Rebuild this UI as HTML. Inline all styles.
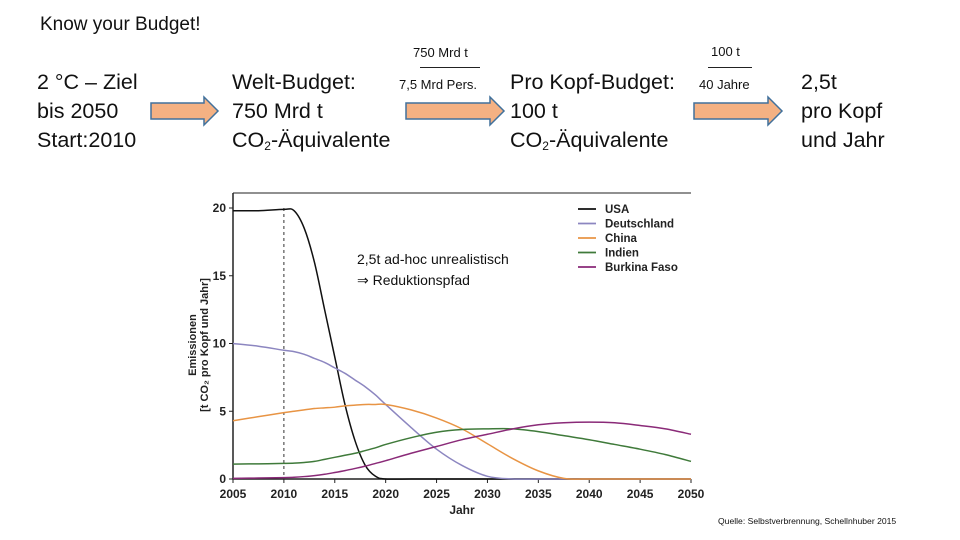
<!DOCTYPE html>
<html><head><meta charset="utf-8">
<style>
body{margin:0;width:960px;height:540px;background:#fff;position:relative;overflow:hidden;font-family:"Liberation Sans",sans-serif;color:#111}
.t{position:absolute;white-space:nowrap}
.big{font-size:21.5px;line-height:29px}
.sm{font-size:13px}
sub{font-size:12px;vertical-align:-3px;line-height:0}
</style></head><body>
<div class="t" style="left:40px;top:14px;font-size:19px">Know your Budget!</div>
<div class="t big" style="left:37px;top:68px">2 °C – Ziel<br>bis 2050<br>Start:2010</div>
<div class="t big" style="left:232px;top:68px">Welt-Budget:<br>750 Mrd t<br>CO<sub>2</sub>-Äquivalente</div>
<div class="t big" style="left:510px;top:68px">Pro Kopf-Budget:<br>100 t<br>CO<sub>2</sub>-Äquivalente</div>
<div class="t big" style="left:801px;top:68px">2,5t<br>pro Kopf<br>und Jahr</div>
<div class="t sm" style="left:413px;top:45px">750 Mrd t</div>
<div style="position:absolute;left:420px;top:67px;width:60px;height:1px;background:#222"></div>
<div class="t sm" style="left:399px;top:77px">7,5 Mrd Pers.</div>
<div class="t sm" style="left:711px;top:44px">100 t</div>
<div style="position:absolute;left:708px;top:67px;width:44px;height:1px;background:#222"></div>
<div class="t sm" style="left:699px;top:77px">40 Jahre</div>
<svg width="960" height="540" style="position:absolute;left:0;top:0">
<g fill="#f4b183" stroke="#41719c" stroke-width="1.5">
<polygon points="151,103 204,103 204,97 218,111 204,125 204,119 151,119"/>
<polygon points="406,103 490,103 490,97 504,111 490,125 490,119 406,119"/>
<polygon points="694,103 768,103 768,97 782,111 768,125 768,119 694,119"/>
</g></svg>
<div class="t" style="left:718px;top:516px;font-size:8.6px">Quelle: Selbstverbrennung, Schellnhuber 2015</div>
<svg id="chart" width="960" height="540" style="position:absolute;left:0;top:0"></svg>
<script>
const years=[2005,2007.5,2010,2011,2012,2013,2014,2015,2016,2017,2018,2019,2020,2022.5,2025,2027.5,2030,2032.5,2035,2037.5,2040,2042.5,2045,2047.5,2050];
const usa=[19.8,19.8,19.9,19.8,18.5,16,12.5,9,5.5,2.8,1,0.2,0,0,0,0,0,0,0,0,0,0,0,0,0];
const deutschland=[10,9.8,9.5,9.4,9.2,8.9,8.6,8.2,7.8,7.3,6.8,6.2,5.5,3.8,2.2,1,0.2,0,0,0,0,0,0,0,0];
const china=[4.3,4.6,4.9,5.0,5.1,5.2,5.25,5.3,5.4,5.45,5.5,5.5,5.5,5.1,4.5,3.7,2.6,1.5,0.6,0.05,0,0,0,0,0];
const indien=[1.1,1.12,1.15,1.17,1.22,1.3,1.45,1.6,1.75,1.9,2.1,2.3,2.55,3.05,3.45,3.65,3.7,3.7,3.5,3.2,2.9,2.55,2.2,1.8,1.3];
const burkina=[0.05,0.07,0.1,0.13,0.18,0.25,0.35,0.48,0.62,0.78,0.95,1.15,1.35,1.9,2.4,2.9,3.3,3.7,4.0,4.15,4.2,4.15,3.95,3.7,3.3];
const seriesNames=["USA","Deutschland","China","Indien","Burkina Faso"];
const seriesColors=["#111","#8c86c0","#e89444","#3f7a3a","#8a2a78"];
const xTicks=[2005,2010,2015,2020,2025,2030,2035,2040,2045,2050];
const yTicks=[0,5,10,15,20];
const svg=document.getElementById('chart');const NS="http://www.w3.org/2000/svg";
const X=v=>233+(v-2005)*(691-233)/45, Y=v=>479-v*(479-208)/20;
function el(t,a,p){const e=document.createElementNS(NS,t);for(const k in a)e.setAttribute(k,a[k]);(p||svg).appendChild(e);return e;}
let e;
e=el('path',{d:`M233,193 L233,479 L691,479`,fill:'none',stroke:'#222','stroke-width':1.5});


e=el('line',{x1:233,y1:193,x2:691,y2:193,stroke:'#222','stroke-width':1});


e=el('line',{x1:X(2010),y1:208,x2:X(2010),y2:479,stroke:'#333','stroke-dasharray':'3,3'});


xTicks.forEach(t=>{e=el('text',{x:X(t),y:498,'text-anchor':'middle','font-size':12,'font-weight':'bold',fill:'#222'});e.textContent=t;


el('line',{x1:X(t),y1:479,x2:X(t),y2:483,stroke:'#222'});});
yTicks.forEach(t=>{e=el('text',{x:226,y:Y(t)+4,'text-anchor':'end','font-size':12,'font-weight':'bold',fill:'#222'});e.textContent=t;


el('line',{x1:229,y1:Y(t),x2:233,y2:Y(t),stroke:'#222'});});
e=el('text',{x:462,y:514,'text-anchor':'middle','font-size':12,'font-weight':'bold',fill:'#222'});e.textContent='Jahr';


e=el('text',{transform:'translate(196,345) rotate(-90)','text-anchor':'middle','font-size':11,'font-weight':'bold',fill:'#222'});e.textContent='Emissionen';


e=el('text',{transform:'translate(208,345) rotate(-90)','text-anchor':'middle','font-size':11,'font-weight':'bold',fill:'#222'});e.textContent='[t CO₂ pro Kopf und Jahr]';


function smooth(vals){const p=years.map((y,i)=>[X(y),Y(vals[i])]);let d=`M${p[0][0]},${p[0][1]}`;
for(let i=0;i<p.length-1;i++){const p0=p[Math.max(0,i-1)],p1=p[i],p2=p[i+1],p3=p[Math.min(p.length-1,i+2)];
d+=` C${p1[0]+(p2[0]-p0[0])/6},${p1[1]+(p2[1]-p0[1])/6} ${p2[0]-(p3[0]-p1[0])/6},${p2[1]-(p3[1]-p1[1])/6} ${p2[0]},${p2[1]}`;}return d;}
[usa,deutschland,china,indien,burkina].forEach((s,i)=>{e=el('path',{d:smooth(s),fill:'none',stroke:seriesColors[i],'stroke-width':1.5});


const ly=209+i*14.5;
e=el('line',{x1:578,y1:ly,x2:596,y2:ly,stroke:seriesColors[i],'stroke-width':1.8});


e=el('text',{x:605,y:ly+4,'font-size':11.5,'font-weight':'bold',fill:'#222'});e.textContent=seriesNames[i];

});
e=el('text',{x:357,y:264,'font-size':14,fill:'#111'});e.textContent='2,5t ad-hoc unrealistisch';


e=el('text',{x:357,y:285,'font-size':14,fill:'#111'});e.textContent='⇒ Reduktionspfad';


</script>
</body></html>
